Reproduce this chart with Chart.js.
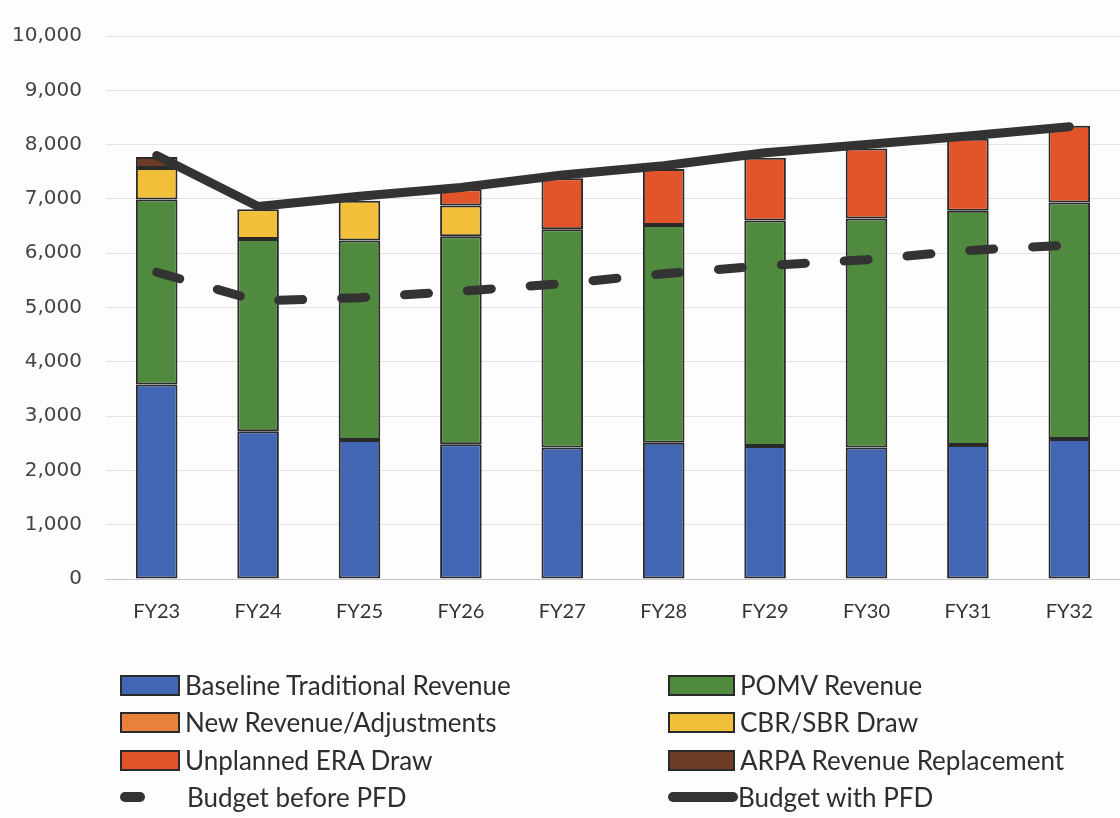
<!DOCTYPE html>
<html>
<head>
<meta charset="utf-8">
<script src="https://cdn.jsdelivr.net/npm/chart.js@4.4.1/dist/chart.umd.min.js"></script>
<style>
  body { margin: 0; background: #fdfdfd; width: 1120px; height: 818px; overflow: hidden; }
  #wrap { position: absolute; left: 0; top: 0; width: 1120px; height: 637px; }
  #legend { position: absolute; left: 0; top: 0; width: 1120px; height: 818px; pointer-events: none;
            font-family: Lato, 'Open Sans', sans-serif; font-size: 26px; color: #2e2e2e; }
  .item { position: absolute; height: 38px; display: flex; align-items: center; white-space: nowrap; }
  .sw { box-sizing: border-box; margin-right: 5px; }
</style>
</head>
<body>
<div id="wrap"><canvas id="budget" width="1120" height="637"></canvas></div>
<div id="legend"></div>
<script>
(function() {

  "use strict";

  // categories and series ($ millions); null = no segment
  var categories = ['FY23', 'FY24', 'FY25', 'FY26', 'FY27', 'FY28', 'FY29', 'FY30', 'FY31', 'FY32'];

  var baseline = [3580, 2720, 2560, 2480, 2420, 2510, 2450, 2420, 2470, 2580];
  var pomv     = [3410, 3540, 3675, 3830, 4020, 4010, 4150, 4220, 4310, 4355];
  var newRev   = [null, null, null, null, null, null, null, null, null, null];
  var cbrSbr   = [580, 550, 730, 570, null, null, null, null, null, null];
  var eraDraw  = [null, null, null, 300, 940, 1030, 1160, 1290, 1330, 1410];
  var arpa     = [200, null, null, null, null, null, null, null, null, null];

  var budgetBeforePFD = [5650, 5120, 5180, 5300, 5440, 5620, 5770, 5880, 6050, 6150];
  var budgetWithPFD   = [7800, 6860, 7050, 7210, 7440, 7610, 7850, 8000, 8160, 8330];

  // y axis tick labels
  var yTicks = [0, 1000, 2000, 3000, 4000, 5000, 6000, 7000, 8000, 9000, 10000];

  var edge = '#2a2a2a';
  var lineColor = '#333333';

  var bar = function(label, data, color) {
    return {
      type: 'bar',
      label: label,
      data: data,
      backgroundColor: color,
      borderColor: edge,
      borderWidth: 2,
      borderSkipped: false,
      categoryPercentage: 1,
      barPercentage: 0.41,
      order: 1
    };
  };

  var datasets = [
    bar('Baseline Traditional Revenue', baseline, '#4265b4'),
    bar('POMV Revenue', pomv, '#4f8a3f'),
    bar('New Revenue/Adjustments', newRev, '#e8813b'),
    bar('CBR/SBR Draw', cbrSbr, '#f2bf3b'),
    bar('Unplanned ERA Draw', eraDraw, '#e2542a'),
    bar('ARPA Revenue Replacement', arpa, '#6e3b26'),
    {
      type: 'line',
      label: 'Budget before PFD',
      data: budgetBeforePFD,
      borderColor: lineColor,
      borderWidth: 9,
      borderDash: [24, 39],
      borderCapStyle: 'round',
      pointRadius: 0,
      tension: 0,
      fill: false,
      stack: 'before',
      order: 0
    },
    {
      type: 'line',
      label: 'Budget with PFD',
      data: budgetWithPFD,
      borderColor: lineColor,
      borderWidth: 9,
      borderCapStyle: 'round',
      borderJoinStyle: 'round',
      pointRadius: 0,
      tension: 0,
      fill: false,
      stack: 'with',
      order: 0
    }
  ];

  new Chart(document.getElementById('budget'), {
    data: {
      labels: categories,
      datasets: datasets
    },
    options: {
      responsive: false,
      animation: false,
      layout: {
        padding: { top: 19, left: -12, right: 0, bottom: 0 }
      },
      plugins: {
        legend: false,
        tooltip: false
      },
      scales: {
        x: {
          stacked: true,
          grid: { display: false },
          border: { color: '#c8c8c8', width: 1 },
          ticks: {
            color: '#333',
            padding: 13,
            font: { family: "Lato, 'Open Sans', sans-serif", size: 20 }
          }
        },
        y: {
          stacked: true,
          min: 0,
          max: 10000,
          afterBuildTicks: function(axis) {
            axis.ticks = yTicks.map(function(v) { return { value: v }; });
          },
          grid: { color: '#e3e3e3', drawTicks: false },
          border: { display: false },
          ticks: {
            color: '#444',
            padding: 24,
            font: { family: "'DejaVu Sans', sans-serif", size: 20 },
            callback: function(v) { return v.toLocaleString('en-US'); }
          }
        }
      }
    }
  });

  // legend in two columns below the chart
  var legend = document.getElementById('legend');
  var cols = [120, 668];
  var rows = [666, 703, 741, 778];

  datasets.forEach(function(ds, i) {
    var item = document.createElement('div');
    item.className = 'item';
    item.style.left = cols[i % 2] + 'px';
    item.style.top = rows[Math.floor(i / 2)] + 'px';

    var sw = document.createElement('span');
    sw.className = 'sw';
    if (ds.type === 'bar') {
      sw.style.width = (i % 2 ? 67 : 60) + 'px';
      sw.style.height = '21px';
      sw.style.background = ds.backgroundColor;
      sw.style.border = '2px solid ' + edge;
    } else if (ds.borderDash) {
      sw.style.width = '25px';
      sw.style.height = '10px';
      sw.style.borderRadius = '5px';
      sw.style.background = ds.borderColor;
      sw.style.marginRight = '42px';
    } else {
      sw.style.width = '70px';
      sw.style.height = '10px';
      sw.style.borderRadius = '5px';
      sw.style.background = ds.borderColor;
      sw.style.marginRight = '0px';
    }
    item.appendChild(sw);
    item.appendChild(document.createTextNode(ds.label));
    legend.appendChild(item);
  });

})();
</script>
</body>
</html>
